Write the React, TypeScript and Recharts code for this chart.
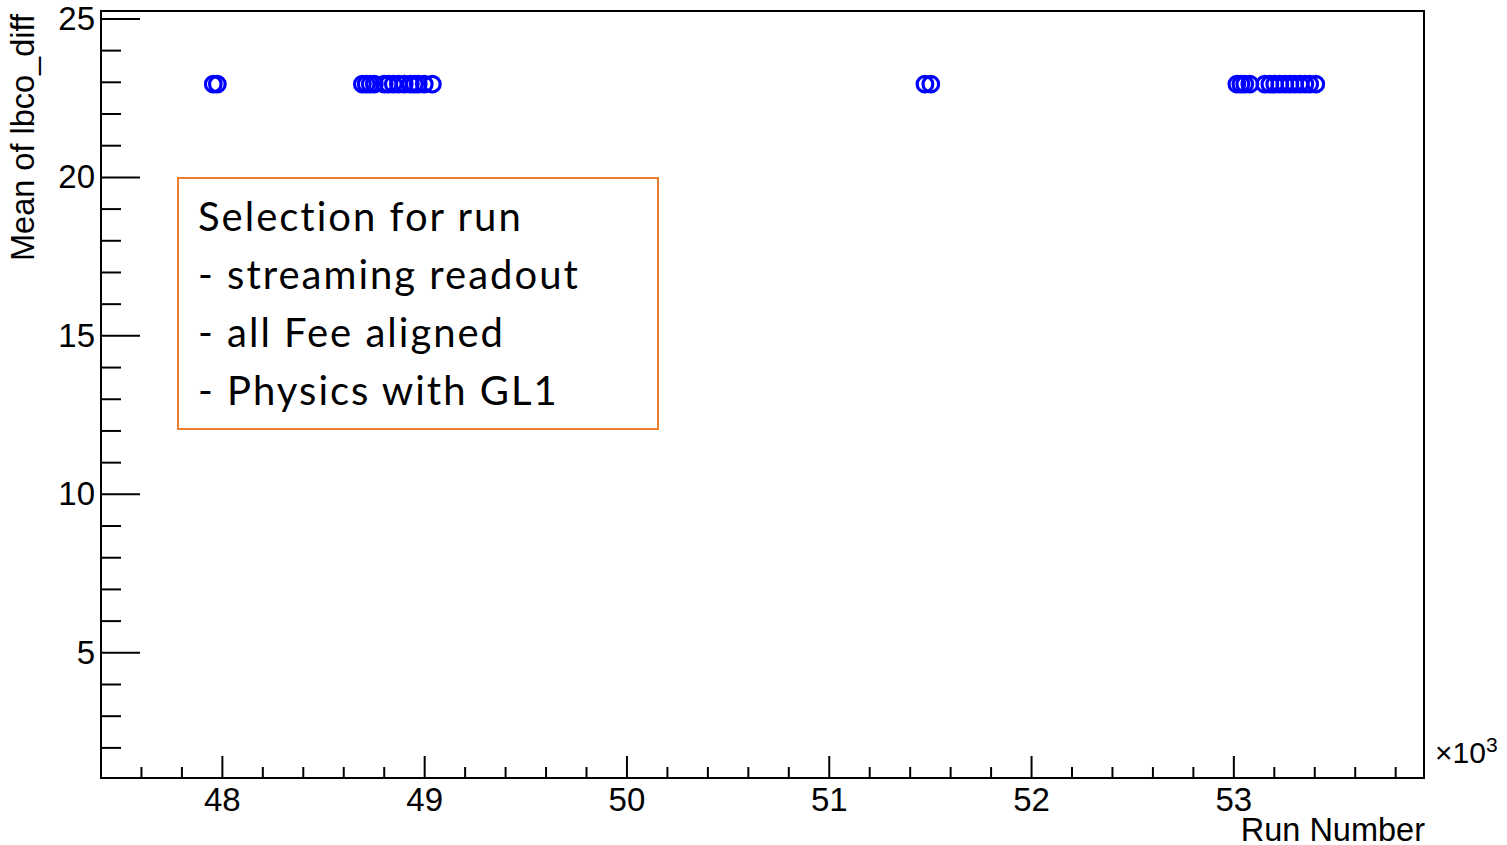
import React from 'react';
import { ScatterChart, Scatter, XAxis, YAxis, ReferenceArea } from 'recharts';

// Run numbers with the mean of lbco_diff measured for each run
const runNumbers = [
  47955, 47975,
  48692, 48711, 48731, 48751, 48800, 48820, 48845, 48870, 48899, 48929, 48949, 48968, 48998, 49038,
  51473, 51502,
  53015, 53035, 53054, 53079, 53153, 53178, 53202, 53227, 53252, 53277, 53301, 53326, 53351, 53375, 53405,
];
const meanLbcoDiff = [
  22.94, 22.94,
  22.94, 22.94, 22.94, 22.94, 22.94, 22.94, 22.94, 22.94, 22.94, 22.94, 22.94, 22.94, 22.94, 22.94,
  22.94, 22.94,
  22.94, 22.94, 22.94, 22.94, 22.94, 22.94, 22.94, 22.94, 22.94, 22.94, 22.94, 22.94, 22.94, 22.94, 22.94,
];

// Axis ranges and ticks (majors get a label)
const xDomain = [47400, 53940];
const yDomain = [1.05, 25.25];
const xTicks = [
  47600, 47800, 48000, 48200, 48400, 48600, 48800, 49000, 49200, 49400, 49600, 49800,
  50000, 50200, 50400, 50600, 50800, 51000, 51200, 51400, 51600, 51800, 52000, 52200,
  52400, 52600, 52800, 53000, 53200, 53400, 53600, 53800,
];
const xMajorTicks = [48000, 49000, 50000, 51000, 52000, 53000];
const yTicks = [2, 3, 4, 5, 6, 7, 8, 9, 10, 11, 12, 13, 14, 15, 16, 17, 18, 19, 20, 21, 22, 23, 24, 25];
const yMajorTicks = [5, 10, 15, 20, 25];

const selectionLines = [
  'Selection for run',
  '- streaming readout',
  '- all Fee aligned',
  '- Physics with GL1',
];

const data = runNumbers.map((run, i) => ({ run, mean: meanLbcoDiff[i] }));

const FONT = '"Liberation Sans", Arial, Helvetica, sans-serif';

const XTick = (props: any) => {
  const { x, y, payload } = props;
  const major = xMajorTicks.includes(payload.value);
  return (
    <g>
      <line x1={x} y1={y} x2={x} y2={y - (major ? 22 : 11)} stroke="#000" strokeWidth={2} />
      {major && (
        <text x={x} y={y + 33} textAnchor="middle" fontSize={33} fontFamily={FONT} fill="#000">
          {payload.value / 1000}
        </text>
      )}
    </g>
  );
};

const YTick = (props: any) => {
  const { x, y, payload } = props;
  const major = yMajorTicks.includes(payload.value);
  return (
    <g>
      <line x1={x} y1={y} x2={x + (major ? 39 : 20)} y2={y} stroke="#000" strokeWidth={2} />
      {major && (
        <text x={x - 6} y={y + 11} textAnchor="end" fontSize={33} fontFamily={FONT} fill="#000">
          {payload.value}
        </text>
      )}
    </g>
  );
};

const OpenCircle = (props: any) => {
  const { cx, cy } = props;
  return <circle cx={cx} cy={cy} r={7.8} fill="none" stroke="#0000ff" strokeWidth={3.2} />;
};

export default function App() {
  return (
    <div style={{ position: 'absolute', left: 0, top: 0, width: 1507, height: 845, background: '#fff' }}>
      <ScatterChart width={1507} height={845} margin={{ top: 11, right: 83, left: 0, bottom: 0 }}>
        <XAxis
          type="number"
          dataKey="run"
          domain={xDomain}
          ticks={xTicks}
          interval={0}
          height={67}
          tickSize={0}
          tickMargin={0}
          allowDataOverflow
          axisLine={{ stroke: '#000', strokeWidth: 2 }}
          tick={<XTick />}
        />
        <YAxis
          type="number"
          dataKey="mean"
          domain={yDomain}
          ticks={yTicks}
          interval={0}
          width={101}
          tickSize={0}
          tickMargin={0}
          allowDataOverflow
          axisLine={{ stroke: '#000', strokeWidth: 2 }}
          tick={<YTick />}
        />
        <ReferenceArea
          x1={xDomain[0]}
          x2={xDomain[1]}
          y1={yDomain[0]}
          y2={yDomain[1]}
          fill="none"
          stroke="#000"
          strokeWidth={2}
          ifOverflow="visible"
        />
        <Scatter data={data} shape={<OpenCircle />} isAnimationActive={false} />
      </ScatterChart>

      {/* Y axis title */}
      <div
        style={{
          position: 'absolute',
          left: 6,
          top: 8,
          fontFamily: FONT,
          fontSize: 32.5,
          lineHeight: '34px',
          whiteSpace: 'nowrap',
          transformOrigin: 'top left',
          transform: 'translate(0px, 253px) rotate(-90deg)',
        }}
      >
        Mean of lbco_diff
      </div>

      {/* X axis title */}
      <div
        style={{
          position: 'absolute',
          right: 1507 - 1425,
          top: 813,
          fontFamily: FONT,
          fontSize: 32.5,
          lineHeight: '34px',
          whiteSpace: 'nowrap',
        }}
      >
        Run Number
      </div>

      {/* Axis multiplier */}
      <div
        style={{
          position: 'absolute',
          left: 1435,
          top: 737,
          fontFamily: FONT,
          fontSize: 30,
          lineHeight: '32px',
          whiteSpace: 'nowrap',
        }}
      >
        ×10<sup style={{ fontSize: 21, verticalAlign: 'top', position: 'relative', top: -8 }}>3</sup>
      </div>

      {/* Selection annotation box */}
      <div
        style={{
          position: 'absolute',
          left: 177,
          top: 177,
          width: 482,
          height: 253,
          border: '2px solid #ED7D31',
          fontFamily: 'Lato, "Open Sans", sans-serif',
          fontSize: 40,
          letterSpacing: 2,
          lineHeight: '58px',
          paddingLeft: 19,
          paddingTop: 8,
          boxSizing: 'border-box',
          color: '#000',
        }}
      >
        {selectionLines.map((line) => (
          <div key={line} style={{ whiteSpace: 'nowrap' }}>{line}</div>
        ))}
      </div>
    </div>
  );
}
